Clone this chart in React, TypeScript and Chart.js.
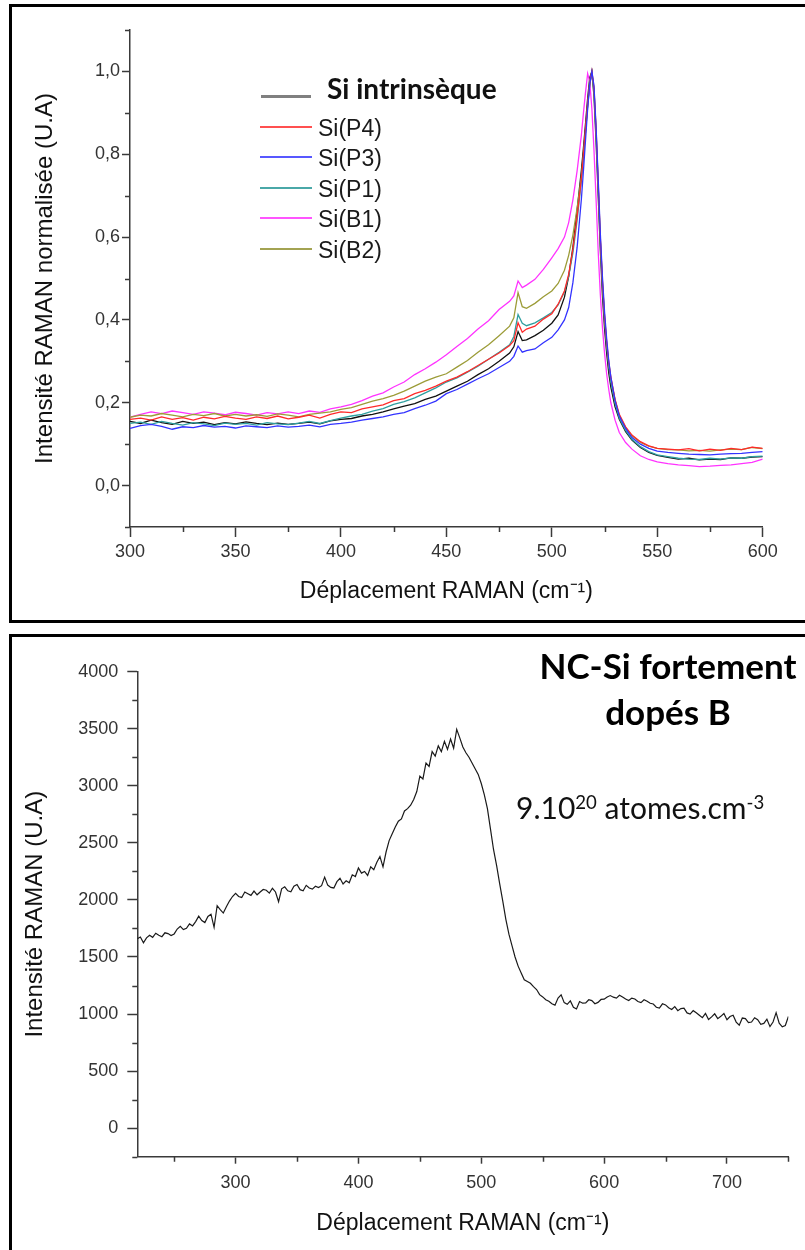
import React, { useEffect, useRef } from 'react';
import { Chart, registerables } from 'chart.js';

Chart.register(...registerables);

// ---------------- DATA: top chart (normalised Raman spectra) ----------------
const X_TOP = [
  300, 305, 310, 315, 320, 325, 330, 335, 340, 345, 350, 355, 360, 365, 370, 375, 380, 385, 390, 395,
  400, 405, 410, 415, 420, 425, 430, 435, 440, 445, 450, 455, 460, 465, 470, 475, 480,
  482, 484, 486, 488, 492, 496,
  500, 503, 506, 508, 510, 512, 514,
  515, 516, 517, 518, 519, 520, 521, 522, 523, 524, 525, 526, 527, 528,
  530, 532, 535, 538, 542, 546,
  550, 555, 560, 565, 570, 575, 580, 585, 590, 595, 600,
];

const SI_INTRINSEQUE = [
  0.155, 0.150, 0.158, 0.152, 0.148, 0.155, 0.150, 0.153, 0.147, 0.152, 0.149, 0.154, 0.150, 0.147, 0.151, 0.148, 0.150, 0.153, 0.149, 0.156,
  0.160, 0.162, 0.168, 0.172, 0.178, 0.185, 0.192, 0.198, 0.208, 0.216, 0.228, 0.240, 0.252, 0.268, 0.282, 0.300, 0.320,
  0.335, 0.372, 0.350, 0.352, 0.362, 0.375,
  0.392, 0.412, 0.455, 0.505, 0.575, 0.665, 0.760,
  0.815, 0.875, 0.935, 0.985, 1.000, 0.940, 0.830, 0.700, 0.570, 0.460, 0.380, 0.320, 0.272, 0.238,
  0.190, 0.160, 0.130, 0.110, 0.092, 0.080,
  0.073, 0.068, 0.064, 0.066, 0.062, 0.064, 0.063, 0.067, 0.066, 0.069, 0.070,
];

const SI_P4 = [
  0.160, 0.163, 0.158, 0.166, 0.160, 0.164, 0.158, 0.165, 0.161, 0.167, 0.163, 0.160, 0.166, 0.162, 0.168, 0.161, 0.165, 0.170, 0.163, 0.172,
  0.178, 0.176, 0.185, 0.190, 0.195, 0.205, 0.210, 0.222, 0.230, 0.240, 0.252, 0.262, 0.275, 0.290, 0.305, 0.320, 0.338,
  0.350, 0.393, 0.370, 0.378, 0.385, 0.402,
  0.415, 0.438, 0.470, 0.510, 0.570, 0.650, 0.740,
  0.800, 0.860, 0.920, 0.970, 1.000, 0.960, 0.860, 0.730, 0.600, 0.495, 0.410, 0.348, 0.298, 0.262,
  0.208, 0.172, 0.142, 0.122, 0.106, 0.096,
  0.090, 0.088, 0.086, 0.089, 0.084, 0.088, 0.085, 0.090, 0.087, 0.093, 0.090,
];

const SI_P3 = [
  0.138, 0.145, 0.148, 0.143, 0.136, 0.142, 0.140, 0.145, 0.141, 0.143, 0.139, 0.144, 0.142, 0.140, 0.144, 0.141, 0.143, 0.146, 0.142, 0.148,
  0.150, 0.153, 0.158, 0.162, 0.166, 0.172, 0.176, 0.186, 0.194, 0.204, 0.222, 0.232, 0.245, 0.258, 0.270, 0.285, 0.300,
  0.312, 0.337, 0.322, 0.326, 0.330, 0.345,
  0.358, 0.376, 0.400, 0.430, 0.490, 0.575, 0.690,
  0.760, 0.835, 0.910, 0.970, 1.000, 0.965, 0.865, 0.740, 0.610, 0.505, 0.420, 0.355, 0.302, 0.262,
  0.205, 0.168, 0.138, 0.116, 0.100, 0.090,
  0.083, 0.080, 0.078, 0.076, 0.075, 0.074, 0.076, 0.077, 0.078, 0.080, 0.082,
];

const SI_P1 = [
  0.150, 0.153, 0.148, 0.155, 0.150, 0.146, 0.152, 0.149, 0.145, 0.151, 0.148, 0.150, 0.146, 0.152, 0.149, 0.147, 0.151, 0.155, 0.150, 0.157,
  0.163, 0.168, 0.172, 0.180, 0.186, 0.196, 0.203, 0.212, 0.224, 0.236, 0.250, 0.260, 0.274, 0.288, 0.305, 0.322, 0.340,
  0.360, 0.413, 0.392, 0.386, 0.393, 0.405,
  0.418, 0.436, 0.468, 0.505, 0.562, 0.640, 0.735,
  0.795, 0.855, 0.915, 0.968, 0.995, 0.955, 0.850, 0.720, 0.590, 0.485, 0.400, 0.338, 0.288, 0.250,
  0.198, 0.163, 0.133, 0.112, 0.094, 0.082,
  0.074, 0.070, 0.066, 0.064, 0.063, 0.066, 0.064, 0.067, 0.066, 0.070, 0.071,
];

const SI_B1 = [
  0.165, 0.172, 0.178, 0.174, 0.180, 0.176, 0.172, 0.178, 0.175, 0.171, 0.177, 0.174, 0.170, 0.176, 0.173, 0.178, 0.174, 0.180, 0.177, 0.185,
  0.190, 0.196, 0.205, 0.216, 0.224, 0.238, 0.250, 0.268, 0.282, 0.298, 0.316, 0.336, 0.355, 0.378, 0.398, 0.425, 0.445,
  0.458, 0.494, 0.478, 0.484, 0.498, 0.522,
  0.550, 0.572, 0.600, 0.635, 0.690, 0.760, 0.845,
  0.900, 0.950, 0.995, 0.975, 0.910, 0.810, 0.690, 0.565, 0.462, 0.382, 0.320, 0.270, 0.232, 0.200,
  0.158, 0.128, 0.104, 0.088, 0.072, 0.063,
  0.057, 0.053, 0.050, 0.048, 0.046, 0.047, 0.049, 0.050, 0.053, 0.056, 0.064,
];

const SI_B2 = [
  0.165, 0.170, 0.168, 0.174, 0.170, 0.166, 0.172, 0.169, 0.174, 0.168, 0.172, 0.168, 0.171, 0.167, 0.173, 0.170, 0.166, 0.172, 0.175, 0.178,
  0.184, 0.188, 0.196, 0.204, 0.210, 0.218, 0.228, 0.240, 0.252, 0.262, 0.270, 0.286, 0.302, 0.322, 0.340, 0.362, 0.385,
  0.405, 0.466, 0.432, 0.428, 0.440, 0.456,
  0.470, 0.488, 0.520, 0.556, 0.605, 0.670, 0.745,
  0.795, 0.855, 0.920, 0.975, 1.000, 0.955, 0.855, 0.725, 0.595, 0.492, 0.408, 0.345, 0.296, 0.258,
  0.206, 0.170, 0.140, 0.120, 0.104, 0.095,
  0.090, 0.087, 0.086, 0.084, 0.085, 0.083, 0.086, 0.088, 0.087, 0.092, 0.089,
];

const TOP_LEGEND = ['Si intrinsèque', 'Si(P4)', 'Si(P3)', 'Si(P1)', 'Si(B1)', 'Si(B2)'];
const TOP_X_TICKS = [300, 350, 400, 450, 500, 550, 600];
const TOP_X_MINOR = [325, 375, 425, 475, 525, 575];
const TOP_Y_TICKS = [0, 0.2, 0.4, 0.6, 0.8, 1.0];
const TOP_Y_MINOR = [-0.1, 0.1, 0.3, 0.5, 0.7, 0.9, 1.1];
const TOP_X_TITLE = 'Déplacement RAMAN (cm⁻¹)';
const TOP_Y_TITLE = 'Intensité RAMAN normalisée (U.A)';

// ---------------- DATA: bottom chart (NC-Si heavily B-doped) ----------------
const X_BOT = [
  220, 222.5, 225, 227.5, 230, 232.5, 235, 237.5, 240, 242.5,
  245, 247.5, 250, 252.5, 255, 257.5, 260, 262.5, 265, 267.5,
  270, 272.5, 275, 277.5, 280, 282.5, 285, 287.5, 290, 292.5,
  295, 297.5, 300, 302.5, 305, 307.5, 310, 312.5, 315, 317.5,
  320, 322.5, 325, 327.5, 330, 332.5, 335, 337.5, 340, 342.5,
  345, 347.5, 350, 352.5, 355, 357.5, 360, 362.5, 365, 367.5,
  370, 372.5, 375, 377.5, 380, 382.5, 385, 387.5, 390, 392.5,
  395, 397.5, 400, 402.5, 405, 407.5, 410, 412.5, 415, 417.5,
  420, 422.5, 425, 427.5, 430, 432.5, 435, 437.5, 440, 442.5,
  445, 447.5, 450, 452.5, 455, 457.5, 460, 462.5, 465, 467.5,
  470, 472.5, 475, 477.5, 480, 482.5, 485, 487.5, 490, 492.5,
  495, 497.5, 500, 502.5, 505, 507.5, 510, 512.5, 515, 517.5,
  520, 522.5, 525, 527.5, 530, 532.5, 535, 537.5, 540, 542.5,
  545, 547.5, 550, 552.5, 555, 557.5, 560, 562.5, 565, 567.5,
  570, 572.5, 575, 577.5, 580, 582.5, 585, 587.5, 590, 592.5,
  595, 597.5, 600, 602.5, 605, 607.5, 610, 612.5, 615, 617.5,
  620, 622.5, 625, 627.5, 630, 632.5, 635, 637.5, 640, 642.5,
  645, 647.5, 650, 652.5, 655, 657.5, 660, 662.5, 665, 667.5,
  670, 672.5, 675, 677.5, 680, 682.5, 685, 687.5, 690, 692.5,
  695, 697.5, 700, 702.5, 705, 707.5, 710, 712.5, 715, 717.5,
  720, 722.5, 725, 727.5, 730, 732.5, 735, 737.5, 740, 742.5,
  745, 747.5, 750,
];
const Y_BOT = [
  1660, 1675, 1625, 1668, 1690, 1672, 1708, 1690, 1678, 1712,
  1705, 1688, 1702, 1745, 1768, 1740, 1752, 1790, 1772, 1810,
  1858, 1820, 1802, 1855, 1875, 1760, 1950, 1915, 1885, 1940,
  1990, 2030, 2058, 2030, 2022, 2070, 2055, 2040, 2078, 2045,
  2070, 2092, 2085, 2060, 2102, 2070, 1985, 2098, 2115, 2080,
  2072, 2120, 2135, 2090, 2080, 2128, 2105, 2095, 2120, 2108,
  2125, 2200, 2130, 2110, 2105, 2160, 2190, 2140, 2168, 2150,
  2220, 2205, 2280, 2235, 2250, 2215, 2290, 2265, 2330, 2380,
  2290, 2420, 2520, 2580, 2640, 2690, 2710, 2780, 2800, 2830,
  2880, 2950, 3085, 3060, 3200, 3170, 3300, 3260, 3350, 3300,
  3390, 3320, 3410, 3330, 3495, 3420, 3340, 3290, 3250, 3200,
  3150, 3100, 3020, 2920, 2800, 2620, 2440, 2300, 2140, 1990,
  1830, 1700, 1600, 1500, 1420, 1360, 1300, 1285, 1270, 1240,
  1215, 1170, 1150, 1125, 1112, 1090, 1078, 1140, 1168, 1100,
  1085, 1115, 1060, 1045, 1110, 1095, 1098, 1125, 1118, 1090,
  1102, 1128, 1130, 1150, 1162, 1148, 1140, 1165, 1150, 1132,
  1118, 1140, 1132, 1110, 1100, 1125, 1112, 1095, 1088, 1060,
  1052, 1090, 1080, 1055, 1040, 1065, 1030, 1048, 1052, 1010,
  1000, 1030, 1012, 990, 968, 1005, 952, 975, 1002, 960,
  980, 1005, 950, 978, 990, 930, 902, 965, 960, 925,
  930, 968, 950, 910, 918, 955, 890, 930, 1012, 920,
  888, 900, 978,
];
const BOT_X_TICKS = [300, 400, 500, 600, 700];
const BOT_X_MINOR = [250, 350, 450, 550, 650, 750];
const BOT_Y_TICKS = [0, 500, 1000, 1500, 2000, 2500, 3000, 3500, 4000];
const BOT_Y_MINOR = [-250, 250, 750, 1250, 1750, 2250, 2750, 3250, 3750];
const BOT_X_TITLE = 'Déplacement RAMAN (cm⁻¹)';
const BOT_Y_TITLE = 'Intensité RAMAN (U.A)';

// ---------------- styling ----------------
const AXIS_FONT = "Arial, 'Liberation Sans', sans-serif";
const CAL_FONT = "Lato, 'Open Sans', sans-serif";
const AXIS_COLOR = '#3a3a3a';
const TICK_LABEL_COLOR = '#333333';

const SERIES_COLORS = ['#111111', '#ff2a2a', '#3333ff', '#2f9f9f', '#ff33ff', '#9c9c38'];
const LEGEND_COLORS = ['#808080', '#ff5050', '#5858ff', '#4aa8a8', '#ff55ff', '#a3a352'];

const minorTicks = {
  id: 'minorTicks',
  afterDraw(chart: any, _args: any, opts: any) {
    const ctx = chart.ctx;
    const xs = chart.scales.x;
    const ys = chart.scales.y;
    ctx.save();
    ctx.strokeStyle = opts.color;
    ctx.lineWidth = opts.width;
    ctx.beginPath();
    for (const v of opts.x) {
      const px = Math.round(xs.getPixelForValue(v)) + 0.5;
      ctx.moveTo(px, xs.top);
      ctx.lineTo(px, xs.top + opts.xLen);
    }
    for (const v of opts.y) {
      const py = Math.round(ys.getPixelForValue(v)) + 0.5;
      ctx.moveTo(ys.right, py);
      ctx.lineTo(ys.right - opts.yLen, py);
    }
    ctx.stroke();
    ctx.restore();
  },
};

function pairs(xs: number[], ys: number[]) {
  return xs.map((x, i) => ({ x, y: ys[i] }));
}

export default function App() {
  const topRef = useRef<HTMLCanvasElement>(null);
  const botRef = useRef<HTMLCanvasElement>(null);

  useEffect(() => {
    const topSeries = [SI_INTRINSEQUE, SI_P4, SI_P3, SI_P1, SI_B1, SI_B2];
    const order = [2, 1, 3, 5, 4, 0];
    const topDatasets = order.map((i) => ({
      label: TOP_LEGEND[i],
      data: pairs(X_TOP, topSeries[i]),
      borderColor: SERIES_COLORS[i],
      borderWidth: 1.3,
      pointRadius: 0,
      tension: 0,
      fill: false,
    }));

    const c1 = new Chart(topRef.current as HTMLCanvasElement, {
      type: 'line',
      data: { datasets: topDatasets as any },
      plugins: [minorTicks as any],
      options: {
        responsive: false,
        animation: false,
        events: [],
        layout: { padding: { left: 0, top: 30, right: 42.3, bottom: 0 } },
        plugins: {
          legend: { display: false },
          tooltip: { enabled: false },
          minorTicks: { x: TOP_X_MINOR, y: TOP_Y_MINOR, xLen: 5, yLen: 5, color: AXIS_COLOR, width: 1.5 },
        } as any,
        scales: {
          x: {
            type: 'linear',
            min: 300,
            max: 600,
            afterBuildTicks: (s: any) => { s.ticks = TOP_X_TICKS.map((v) => ({ value: v })); },
            afterFit: (s: any) => { s.height = 93; },
            grid: { drawOnChartArea: false, drawTicks: true, tickLength: 10, tickColor: AXIS_COLOR, tickWidth: 1.5 },
            border: { display: true, color: AXIS_COLOR, width: 1.5 },
            ticks: { padding: 4, color: TICK_LABEL_COLOR, font: { family: AXIS_FONT, size: 18 }, maxRotation: 0, autoSkip: false, callback: (v: any) => String(v) },
            title: { display: true, text: TOP_X_TITLE, color: '#111', font: { family: AXIS_FONT, size: 23 }, padding: { top: 0, bottom: 14.2 } },
          },
          y: {
            type: 'linear',
            min: -0.1,
            max: 1.1,
            afterBuildTicks: (s: any) => { s.ticks = TOP_Y_TICKS.map((v) => ({ value: v })); },
            afterFit: (s: any) => { s.width = 130; },
            grid: { drawOnChartArea: false, drawTicks: true, tickLength: 8, tickColor: AXIS_COLOR, tickWidth: 1.5 },
            border: { display: true, color: AXIS_COLOR, width: 1.5 },
            ticks: { padding: 2, color: TICK_LABEL_COLOR, font: { family: AXIS_FONT, size: 18 }, autoSkip: false, callback: (v: any) => Number(v).toFixed(1).replace('.', ',') },
            title: { display: true, text: TOP_Y_TITLE, color: '#111', font: { family: AXIS_FONT, size: 24 }, padding: { top: 30.9, bottom: 0 } },
          },
        },
      } as any,
    });

    const c2 = new Chart(botRef.current as HTMLCanvasElement, {
      type: 'line',
      data: {
        datasets: [{
          label: 'NC-Si',
          data: pairs(X_BOT, Y_BOT),
          borderColor: '#1a1a1a',
          borderWidth: 1.2,
          pointRadius: 0,
          tension: 0,
          fill: false,
        }] as any,
      },
      plugins: [minorTicks as any],
      options: {
        responsive: false,
        animation: false,
        events: [],
        layout: { padding: { left: 0, top: 34.7, right: 16.6, bottom: 0 } },
        plugins: {
          legend: { display: false },
          tooltip: { enabled: false },
          minorTicks: { x: BOT_X_MINOR, y: BOT_Y_MINOR, xLen: 5, yLen: 5, color: AXIS_COLOR, width: 1.5 },
        } as any,
        scales: {
          x: {
            type: 'linear',
            min: 220,
            max: 750,
            afterBuildTicks: (s: any) => { s.ticks = BOT_X_TICKS.map((v) => ({ value: v })); },
            afterFit: (s: any) => { s.height = 93.3; },
            grid: { drawOnChartArea: false, drawTicks: true, tickLength: 7, tickColor: AXIS_COLOR, tickWidth: 1.5 },
            border: { display: true, color: AXIS_COLOR, width: 1.5 },
            ticks: { padding: 8.5, color: TICK_LABEL_COLOR, font: { family: AXIS_FONT, size: 18 }, maxRotation: 0, autoSkip: false, callback: (v: any) => String(v) },
            title: { display: true, text: BOT_X_TITLE, color: '#111', font: { family: AXIS_FONT, size: 23 }, padding: { top: 0, bottom: 12.2 } },
          },
          y: {
            type: 'linear',
            min: -250,
            max: 4000,
            afterBuildTicks: (s: any) => { s.ticks = BOT_Y_TICKS.map((v) => ({ value: v })); },
            afterFit: (s: any) => { s.width = 137.3; },
            grid: { drawOnChartArea: false, drawTicks: true, tickLength: 10, tickColor: AXIS_COLOR, tickWidth: 1.5 },
            border: { display: true, color: AXIS_COLOR, width: 1.5 },
            ticks: { padding: 9, color: TICK_LABEL_COLOR, font: { family: AXIS_FONT, size: 18 }, autoSkip: false, callback: (v: any) => String(v) },
            title: { display: true, text: BOT_Y_TITLE, color: '#111', font: { family: AXIS_FONT, size: 24 }, padding: { top: 20.6, bottom: 0 } },
          },
        },
      } as any,
    });

    return () => {
      c1.destroy();
      c2.destroy();
    };
  }, []);

  const legendRows = [127, 157, 187.5, 218, 248.5];

  return (
    <div style={{ position: 'absolute', left: 0, top: 0, width: 805, height: 1250, overflow: 'hidden', background: '#fff' }}>
      <canvas ref={topRef} width={805} height={620} style={{ position: 'absolute', left: 0, top: 0, width: 805, height: 620 }} />
      <canvas ref={botRef} width={805} height={613} style={{ position: 'absolute', left: 0, top: 637, width: 805, height: 613 }} />

      {/* legend of the top chart */}
      <div style={{ position: 'absolute', left: 261, top: 94.5, width: 50, height: 3, background: LEGEND_COLORS[0] }} />
      <div style={{ position: 'absolute', left: 327, top: 71, height: 34, lineHeight: '34px', fontFamily: CAL_FONT, fontWeight: 700, fontSize: 28, color: '#111', whiteSpace: 'nowrap' }}>
        {TOP_LEGEND[0]}
      </div>
      {legendRows.map((y, k) => (
        <React.Fragment key={k}>
          <div style={{ position: 'absolute', left: 260, top: y - 1, width: 52, height: 2, background: LEGEND_COLORS[k + 1] }} />
          <div style={{ position: 'absolute', left: 318, top: y + 1 - 15, height: 30, lineHeight: '30px', fontFamily: AXIS_FONT, fontSize: 23, color: '#1a1a1a', whiteSpace: 'nowrap' }}>
            {TOP_LEGEND[k + 1]}
          </div>
        </React.Fragment>
      ))}

      {/* annotations of the bottom chart */}
      <div style={{ position: 'absolute', left: 516, width: 304, top: 642, textAlign: 'center', fontFamily: CAL_FONT, fontWeight: 700, fontSize: 35, lineHeight: '46px', color: '#000', whiteSpace: 'nowrap' }}>
        NC-Si fortement<br />dopés B
      </div>
      <div style={{ position: 'absolute', left: 516, top: 788, height: 38, lineHeight: '38px', fontFamily: CAL_FONT, fontSize: 30, color: '#111', whiteSpace: 'nowrap' }}>
        9.10<sup style={{ fontSize: '0.62em', verticalAlign: '0.55em', lineHeight: 0 }}>20</sup> atomes.cm<sup style={{ fontSize: '0.62em', verticalAlign: '0.55em', lineHeight: 0 }}>-3</sup>
      </div>

      {/* panel frames */}
      <div style={{ position: 'absolute', left: 9, top: 4, width: 800, height: 619, border: '3px solid #000', boxSizing: 'border-box', pointerEvents: 'none' }} />
      <div style={{ position: 'absolute', left: 9, top: 634, width: 800, height: 700, border: '3px solid #000', boxSizing: 'border-box', pointerEvents: 'none' }} />
    </div>
  );
}
